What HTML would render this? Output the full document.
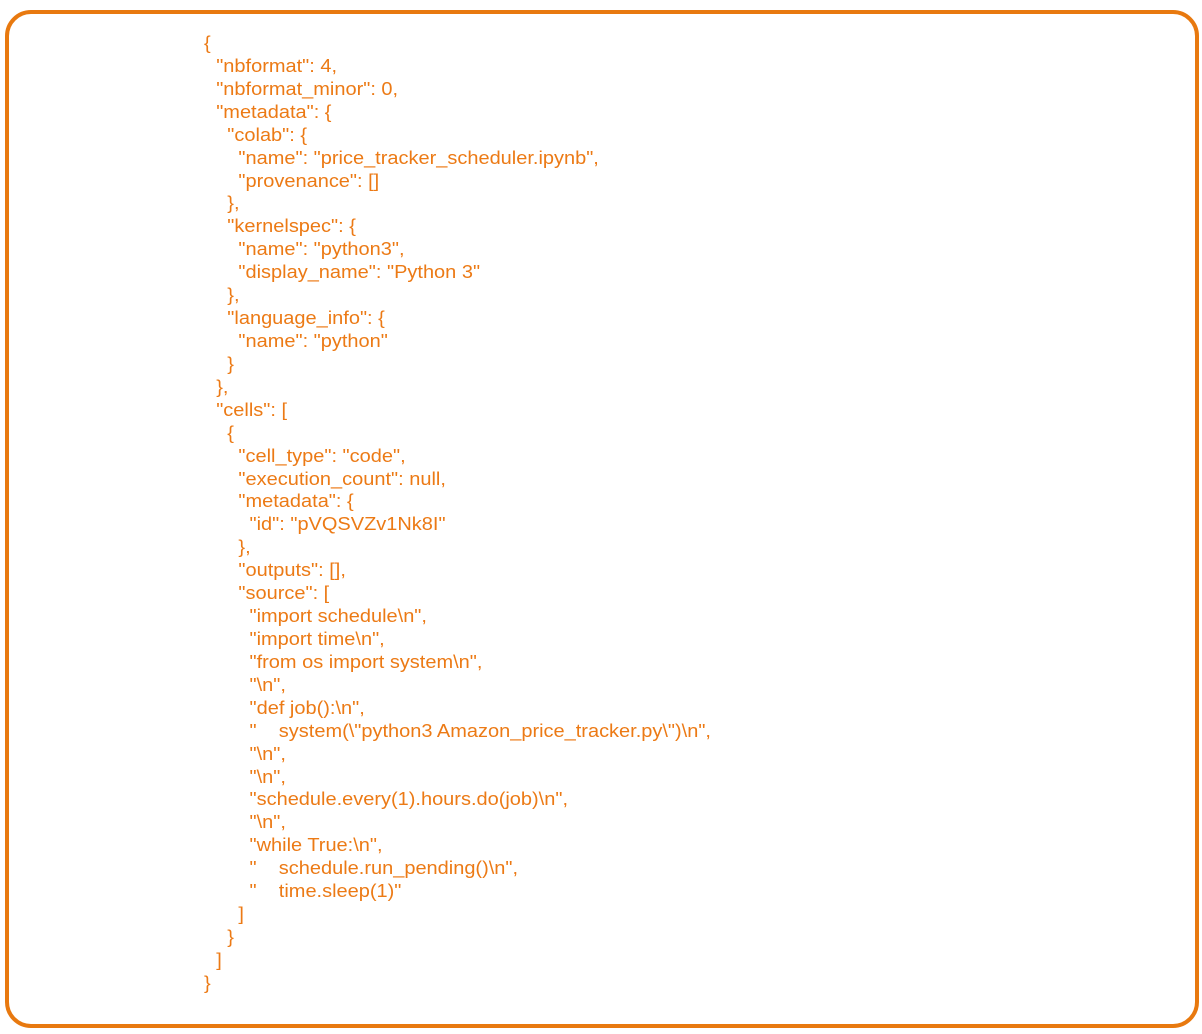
<!DOCTYPE html>
<html><head><meta charset="utf-8"><style>
html,body{margin:0;padding:0;background:#fff;width:1202px;height:1034px;overflow:hidden}
.box{position:absolute;left:5px;top:10px;width:1186px;height:1010px;border:4px solid #E8790F;border-radius:26px}
.code{position:absolute;left:204px;top:32px;font-family:"Liberation Sans",sans-serif;font-size:18px;line-height:22.93px;color:#EC7A15;transform:scaleX(1.11);transform-origin:0 0}
.code div{height:22.93px;white-space:pre}
.l1{padding-left:11px}.l2{padding-left:21px}.l3{padding-left:31px}.l4{padding-left:41px}
</style></head><body>
<div class="box"></div>
<div class="code"><div>{</div><div class="l1">"nbformat": 4,</div><div class="l1">"nbformat_minor": 0,</div><div class="l1">"metadata": {</div><div class="l2">"colab": {</div><div class="l3">"name": "price_tracker_scheduler.ipynb",</div><div class="l3">"provenance": []</div><div class="l2">},</div><div class="l2">"kernelspec": {</div><div class="l3">"name": "python3",</div><div class="l3">"display_name": "Python 3"</div><div class="l2">},</div><div class="l2">"language_info": {</div><div class="l3">"name": "python"</div><div class="l2">}</div><div class="l1">},</div><div class="l1">"cells": [</div><div class="l2">{</div><div class="l3">"cell_type": "code",</div><div class="l3">"execution_count": null,</div><div class="l3">"metadata": {</div><div class="l4">"id": "pVQSVZv1Nk8I"</div><div class="l3">},</div><div class="l3">"outputs": [],</div><div class="l3">"source": [</div><div class="l4">"import schedule\n",</div><div class="l4">"import time\n",</div><div class="l4">"from os import system\n",</div><div class="l4">"\n",</div><div class="l4">"def job():\n",</div><div class="l4">"    system(\"python3 Amazon_price_tracker.py\")\n",</div><div class="l4">"\n",</div><div class="l4">"\n",</div><div class="l4">"schedule.every(1).hours.do(job)\n",</div><div class="l4">"\n",</div><div class="l4">"while True:\n",</div><div class="l4">"    schedule.run_pending()\n",</div><div class="l4">"    time.sleep(1)"</div><div class="l3">]</div><div class="l2">}</div><div class="l1">]</div><div>}</div></div>
</body></html>
